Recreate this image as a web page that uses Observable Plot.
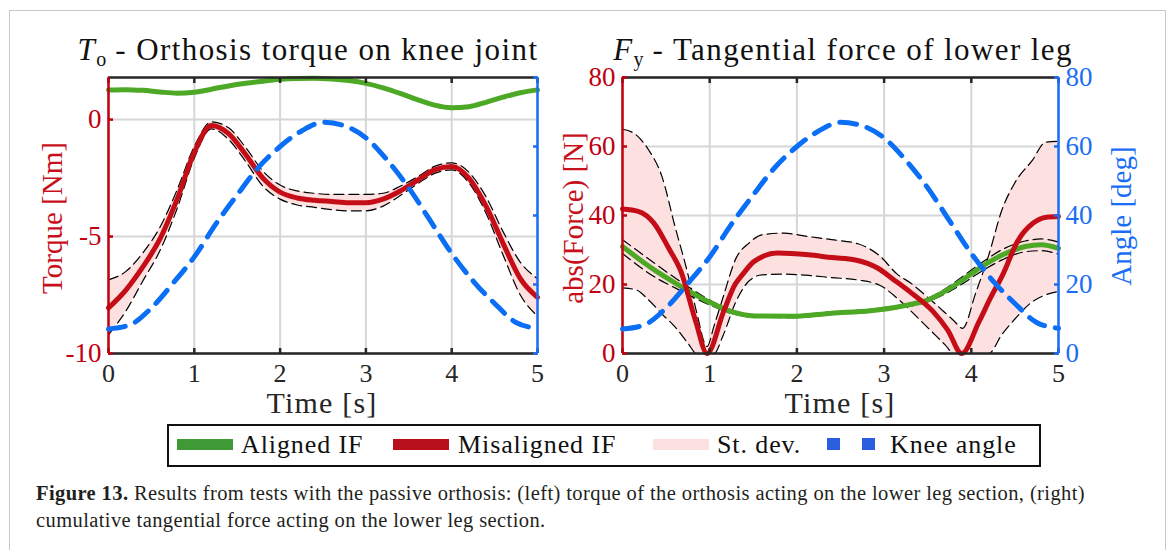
<!DOCTYPE html>
<html><head><meta charset="utf-8">
<script src="https://cdn.jsdelivr.net/npm/d3@7"></script>
<script src="https://cdn.jsdelivr.net/npm/@observablehq/plot@0.6"></script>
<style>
body{margin:0;background:#fff;width:1171px;height:550px;overflow:hidden;position:relative;font-family:"Liberation Serif","DejaVu Serif",serif;}
.abs{position:absolute}
.panel svg{position:absolute;left:0;top:0}
#border{position:absolute;left:9px;top:10px;width:1155px;height:560px;border:1.5px solid #c8c8c8;border-bottom:none}
.title{position:absolute;font-size:31px;letter-spacing:1.4px;color:#111;text-align:center;white-space:nowrap;line-height:34px}
.title sub{font-size:20px;font-style:normal;vertical-align:-6px;line-height:0;letter-spacing:0}
.ylab{position:absolute;font-size:29px;white-space:nowrap;transform:translate(-50%,-50%) rotate(-90deg);line-height:30px}
.xlab{position:absolute;font-size:30px;letter-spacing:1.2px;white-space:nowrap;transform:translate(-50%,-50%);color:#262626;line-height:22px}
#legend{position:absolute;left:167px;top:424px;width:870px;height:39px;border:2px solid #111;background:#fff}
.sw{position:absolute}
.lt{position:absolute;font-size:26px;letter-spacing:0.9px;color:#111;white-space:nowrap;line-height:30px;top:4px}
#caption{position:absolute;left:36px;top:480px;font-size:20.5px;letter-spacing:0.4px;line-height:27px;color:#231f20;white-space:nowrap}
</style></head><body>
<div id="border"></div>
<div id="leftPanel" class="panel abs" style="left:0;top:0;width:570px;height:420px"></div>
<div id="rightPanel" class="panel abs" style="left:540px;top:0;width:600px;height:420px"></div>
<div class="title" style="left:58px;width:500px;top:33px"><i>T</i><sub>o</sub> - Orthosis torque on knee joint</div>
<div class="title" style="left:593px;width:500px;top:33px"><i>F</i><sub>y</sub> - Tangential force of lower leg</div>
<div class="ylab" style="left:52px;top:218px;color:#c8101a">Torque [Nm]</div>
<div class="ylab" style="left:573px;top:218px;color:#c8101a">abs(Force) [N]</div>
<div class="ylab" style="left:1121px;top:216px;color:#1a6ef5">Angle [deg]</div>
<div class="xlab" style="left:322px;top:403px">Time [s]</div>
<div class="xlab" style="left:840px;top:403px">Time [s]</div>
<div id="legend">
  <div class="sw" style="left:8px;top:13px;width:56px;height:11px;background:#3f9a35"></div>
  <div class="lt" style="left:72px">Aligned IF</div>
  <div class="sw" style="left:224px;top:13px;width:56px;height:11px;background:#b80f1d"></div>
  <div class="lt" style="left:289px">Misaligned IF</div>
  <div class="sw" style="left:484px;top:13px;width:56px;height:11px;background:#fde0e0"></div>
  <div class="lt" style="left:548px">St. dev.</div>
  <div class="sw" style="left:658px;top:12px;width:13px;height:12px;background:#2a5fe0"></div>
  <div class="sw" style="left:693px;top:12px;width:13px;height:12px;background:#2a5fe0"></div>
  <div class="lt" style="left:721px">Knee angle</div>
</div>
<div id="caption"><b>Figure 13.</b> Results from tests with the passive orthosis: (left) torque of the orthosis acting on the lower leg section, (right)<br>cumulative tangential force acting on the lower leg section.</div>
<script>
// ---------- data ----------
const timeDomain = [0, 5];
const timeTicks = [0, 1, 2, 3, 4, 5];
const torqueDomain = [-10, 1.8];
const torqueTicks = [-10, -5, 0];
const forceDomain = [0, 80];
const forceTicks = [0, 20, 40, 60, 80];
const angleDomain = [0, 80];
const angleTicks = [0, 20, 40, 60, 80];

// left: orthosis torque [Nm]
const tTorque = [0,0.2,0.4,0.6,0.8,1.0,1.2,1.4,1.6,1.8,2.0,2.2,2.4,2.6,2.8,3.0,3.2,3.4,3.6,3.8,4.0,4.2,4.4,4.6,4.8,5.0];
const torqueAligned = [1.27,1.28,1.25,1.18,1.13,1.17,1.30,1.44,1.55,1.64,1.72,1.76,1.77,1.74,1.67,1.55,1.36,1.12,0.85,0.62,0.51,0.55,0.74,0.96,1.15,1.27];
const torqueMisaligned = [-8.05,-7.3,-6.3,-5.1,-3.4,-1.4,-0.25,-0.6,-1.5,-2.5,-3.1,-3.35,-3.45,-3.5,-3.55,-3.55,-3.4,-3.05,-2.6,-2.15,-2.0,-2.5,-3.7,-5.3,-6.8,-7.6];
const torqueMisUpper = [-6.85,-6.5,-5.7,-4.6,-3.0,-1.15,-0.1,-0.35,-1.2,-2.2,-2.8,-3.05,-3.15,-3.2,-3.2,-3.2,-3.15,-2.85,-2.45,-2.0,-1.85,-2.25,-3.3,-4.8,-6.1,-6.8];
const torqueMisLower = [-9.2,-8.2,-6.9,-5.6,-3.8,-1.65,-0.4,-0.85,-1.8,-2.85,-3.4,-3.65,-3.75,-3.85,-3.9,-3.9,-3.7,-3.25,-2.75,-2.3,-2.15,-2.7,-4.0,-5.8,-7.5,-8.4];

// knee angle [deg]
const tAngle = [0,0.25,0.5,0.75,1.0,1.25,1.5,1.75,2.0,2.25,2.5,2.75,3.0,3.25,3.5,3.75,4.0,4.25,4.5,4.75,5.0];
const kneeAngle = [7.1,8.3,13.2,20.3,28,37.5,46,54,60,64.5,67,66,62.5,56,48,38.5,29,21,14.5,9,7.3];

// right: tangential force [N]
const tForceMis = [0,0.18,0.36,0.53,0.67,0.84,0.97,1.16,1.29,1.38,1.51,1.78,2.13,2.4,2.67,2.93,3.11,3.29,3.56,3.73,3.89,4.09,4.22,4.36,4.53,4.71,4.86,5];
const forceMisaligned = [41.9,41.2,37.8,30.5,23.8,9.3,0,12.2,20,23,26.7,29.1,28.6,27.8,27.1,24.7,21.4,18,12.2,6.8,0,9.3,16.1,22.8,32.5,37.8,39.5,39.7];
const tForceBand = [0,0.15,0.3,0.45,0.6,0.75,0.85,0.97,1.05,1.15,1.3,1.45,1.6,1.85,2.1,2.4,2.7,2.95,3.15,3.3,3.5,3.7,3.8,3.9,4.05,4.2,4.35,4.5,4.7,4.85,5];
const forceMisUpper = [65,63.5,59,51.5,37,23,12,2,8,16,27.5,32,34.4,34.9,34,33,31.8,28.3,23,20.5,16.3,11.8,9.5,7.3,17.5,28.5,41.5,49.5,56,61.2,61.5];
const forceMisLower = [19,18.5,15.5,11.5,7.8,3,0,0,0,5,15,21,22.8,23,22.7,22,21.3,19.8,16,12.5,7.5,2.5,0,0,0,0,5.5,10,15,17,18];
const tForceAli = [0,0.36,0.62,0.98,1.24,1.51,1.96,2.4,2.84,3.2,3.51,3.73,3.91,4.09,4.36,4.62,4.8,5];
const forceAligned = [31,24.3,20.2,15.1,12.2,10.9,10.8,11.7,12.4,13.7,15.6,18.5,21.5,24.7,28.6,31,31.5,30.5];
const forceAliUpper = [33,26.3,21.6,15.8,12.7,11.3,11.2,12.1,12.8,14.1,16.1,19.2,22.5,25.8,30.2,32.6,33.2,32.3];
const forceAliLower = [29,22.3,18.8,14.3,11.7,10.5,10.4,11.3,12.0,13.3,15.1,17.7,20.4,23.4,27.2,29.5,29.8,28.8];

// ---------- styling ----------
const RED = "#c40d16", GREEN = "#4da826", BLUE = "#0b6ff5", PINK = "#fde0e0";
const AXRED = "#c0000e", AXBLUE = "#1a6ef5", DARK = "#262626", GRID = "#d6d6d6";
const FONT = '"Liberation Serif","DejaVu Serif",serif';
const CURVE = "monotone-x";

const torqueRows = tTorque.map((t, i) => ({t, ali: torqueAligned[i], mis: torqueMisaligned[i], hi: torqueMisUpper[i], lo: torqueMisLower[i]}));
const angleRows = tAngle.map((t, i) => ({t, a: kneeAngle[i]}));
const forceMisRows = tForceMis.map((t, i) => ({t, v: forceMisaligned[i]}));
const forceBandRows = tForceBand.map((t, i) => ({t, hi: forceMisUpper[i], lo: forceMisLower[i]}));
const forceAliRows = tForceAli.map((t, i) => ({t, v: forceAligned[i], hi: forceAliUpper[i], lo: forceAliLower[i]}));

const style = {background: "transparent", fontFamily: FONT, fontSize: "25px", overflow: "visible", maxWidth: "none"};
const fmt = d => String(d);
const blank = () => "";
const dashed = {stroke: "#000", strokeWidth: 1.2, strokeDasharray: "10,5", curve: CURVE};

function frameMarks(yDomain, yTicks) {
  return [
    Plot.ruleY([yDomain[1]], {stroke: DARK, strokeWidth: 2.5}),
    Plot.ruleY([yDomain[0]], {stroke: DARK, strokeWidth: 2.5}),
    Plot.axisX(timeTicks, {anchor: "bottom", tickSize: 0, tickPadding: 10, tickFormat: fmt, label: null, fill: DARK, fontSize: 26}),
    Plot.axisX(timeTicks, {anchor: "bottom", tickSize: -5, tickFormat: blank, label: null, stroke: DARK, strokeWidth: 2.5}),
    Plot.axisX(timeTicks, {anchor: "top", tickSize: -5, tickFormat: blank, label: null, stroke: DARK, strokeWidth: 2.5}),
    Plot.axisY(yTicks, {anchor: "left", tickSize: 0, tickPadding: 7, tickFormat: fmt, label: null, fill: AXRED, fontSize: 27}),
    Plot.axisY(yTicks, {anchor: "left", tickSize: -5, tickFormat: blank, label: null, stroke: AXRED, strokeWidth: 2.5}),
    Plot.ruleX([timeDomain[0]], {stroke: AXRED, strokeWidth: 2.5})
  ];
}
function angleMarks(showLabels) {
  return [
    Plot.line(angleRows, {x: "t", y: "a", stroke: BLUE, strokeWidth: 5, strokeDasharray: "17,11", curve: CURVE}),
    Plot.ruleX([timeDomain[1]], {stroke: AXBLUE, strokeWidth: 2.5}),
    Plot.axisY(angleTicks, {anchor: "right", tickSize: -5, tickFormat: blank, label: null, stroke: AXBLUE, strokeWidth: 2.5}),
    ...(showLabels ? [Plot.axisY(angleTicks, {anchor: "right", tickSize: 0, tickPadding: 7, tickFormat: fmt, label: null, fill: AXBLUE, fontSize: 27})] : [])
  ];
}

// ---------- left panel ----------
const LD = {width: 570, height: 420, marginLeft: 108, marginRight: 33, marginTop: 77, marginBottom: 67};
const leftBase = Plot.plot({
  ...LD, style,
  x: {domain: timeDomain, axis: null}, y: {domain: torqueDomain, axis: null},
  marks: [
    Plot.gridX(timeTicks, {stroke: GRID, strokeOpacity: 1, strokeWidth: 2}),
    Plot.gridY(torqueTicks, {stroke: GRID, strokeOpacity: 1, strokeWidth: 2}),
    Plot.areaY(torqueRows, {x: "t", y1: "lo", y2: "hi", fill: PINK, curve: CURVE}),
    Plot.line(torqueRows, {x: "t", y: "hi", ...dashed}),
    Plot.line(torqueRows, {x: "t", y: "lo", ...dashed}),
    Plot.line(torqueRows, {x: "t", y: "mis", stroke: RED, strokeWidth: 5, curve: CURVE}),
    Plot.line(torqueRows, {x: "t", y: "ali", stroke: GREEN, strokeWidth: 5, curve: CURVE}),
    ...frameMarks(torqueDomain, torqueTicks)
  ]
});
const leftAngle = Plot.plot({
  ...LD, style,
  x: {domain: timeDomain, axis: null}, y: {domain: angleDomain, axis: null},
  marks: angleMarks(false)
});
document.getElementById("leftPanel").append(leftBase, leftAngle);

// ---------- right panel ----------
const RD = {width: 600, height: 420, marginLeft: 82, marginRight: 82, marginTop: 77, marginBottom: 67};
const rightBase = Plot.plot({
  ...RD, style,
  x: {domain: timeDomain, axis: null}, y: {domain: forceDomain, axis: null},
  marks: [
    Plot.gridX(timeTicks, {stroke: GRID, strokeOpacity: 1, strokeWidth: 2}),
    Plot.gridY(forceTicks, {stroke: GRID, strokeOpacity: 1, strokeWidth: 2}),
    Plot.areaY(forceBandRows, {x: "t", y1: "lo", y2: "hi", fill: PINK, curve: CURVE}),
    Plot.line(forceBandRows, {x: "t", y: "hi", ...dashed}),
    Plot.line(forceBandRows, {x: "t", y: "lo", ...dashed}),
    Plot.line(forceAliRows, {x: "t", y: "hi", ...dashed}),
    Plot.line(forceAliRows, {x: "t", y: "lo", ...dashed}),
    Plot.line(forceAliRows, {x: "t", y: "v", stroke: GREEN, strokeWidth: 5, curve: CURVE}),
    Plot.line(forceMisRows, {x: "t", y: "v", stroke: RED, strokeWidth: 5, curve: CURVE}),
    ...frameMarks(forceDomain, forceTicks)
  ]
});
const rightAngle = Plot.plot({
  ...RD, style,
  x: {domain: timeDomain, axis: null}, y: {domain: angleDomain, axis: null},
  marks: angleMarks(true)
});
document.getElementById("rightPanel").append(rightBase, rightAngle);
</script>
</body></html>
